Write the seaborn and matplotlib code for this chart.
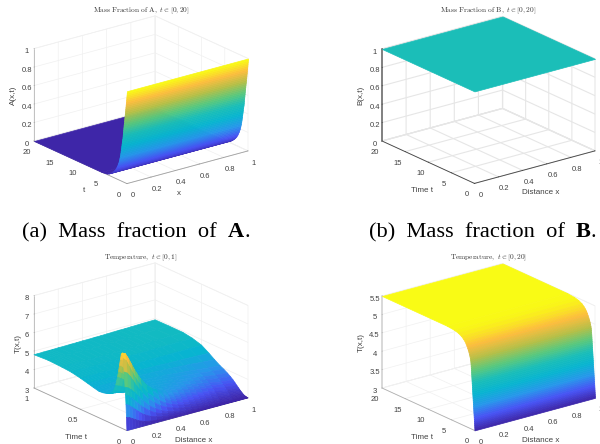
import numpy as np
import matplotlib
matplotlib.use("Agg")
import matplotlib.pyplot as plt
from matplotlib.colors import Normalize
from matplotlib.text import Text
import seaborn as sns
from mpl_toolkits.mplot3d import proj3d

sns.set_theme(style="white")
plt.rcParams["font.family"] = ["Liberation Sans", "DejaVu Sans"]
plt.rcParams["mathtext.fontset"] = "cm"

# ---- data ----
x_edges = [0, 1]

t_a = [0, .03, .06, .1, .13, .17, .2, .24, .27, .31, .35, .38, .42, .46, .5, .54, .58, .62, .66, .7, .73, .77, .81, .85,
       .88, .91, .94, 1.0, 1.06, 1.11, 1.15, 1.2, 1.25, 1.3, 1.35, 1.4, 1.46, 1.52, 1.6, 1.68, 1.76, 1.88, 2.0, 2.15,
       2.3, 2.5, 2.75, 3.05, 3.4, 3.9, 4.3, 4.7, 5.5, 20]
mass_a = [1, .98, .96, .94, .92, .9, .88, .86, .84, .82, .8, .78, .76, .74, .72, .7, .68, .66, .64, .62, .6, .58, .56, .54,
          .52, .5, .48, .46, .44, .42, .4, .38, .36, .34, .32, .3, .28, .26, .24, .22, .2, .18, .16, .14,
          .12, .1, .08, .06, .04, .02, .01, .005, 0, 0]

t_b = [0, 20]
mass_b = [1, 1]

x_c = [0, .025, .05, .075, .1, .125, .15, .2, .25, .3, .35, .4, .45, .5, .55, .6, .65, .7, .75, .8, .9, 1]
t_c = [0, .005, .01, .015, .02, .03, .04, .05, .06, .07, .08, .09, .1, .12, .14, .16, .19, .22, .26, .3, .36, .42, .5, .6, .7, .85, 1]
temp_c = [
    [3.00, 3.00, 3.00, 3.00, 3.00, 3.00, 3.00, 3.00, 3.00, 3.00, 3.00, 3.00, 3.00, 3.00, 3.00, 3.00, 3.00, 3.00, 3.00, 3.00, 3.00, 3.00],
    [3.70, 3.65, 3.55, 3.45, 3.35, 3.28, 3.22, 3.15, 3.11, 3.08, 3.06, 3.05, 3.04, 3.03, 3.02, 3.02, 3.01, 3.01, 3.01, 3.01, 3.00, 3.00],
    [4.40, 4.30, 4.15, 4.00, 3.85, 3.70, 3.58, 3.40, 3.28, 3.20, 3.15, 3.12, 3.09, 3.07, 3.05, 3.04, 3.03, 3.03, 3.02, 3.02, 3.01, 3.00],
    [4.90, 4.80, 4.65, 4.47, 4.28, 4.10, 3.95, 3.68, 3.48, 3.35, 3.26, 3.20, 3.15, 3.11, 3.09, 3.07, 3.06, 3.05, 3.04, 3.03, 3.02, 3.01],
    [5.30, 5.22, 5.08, 4.90, 4.70, 4.50, 4.30, 3.95, 3.70, 3.50, 3.37, 3.28, 3.21, 3.16, 3.13, 3.11, 3.09, 3.07, 3.06, 3.05, 3.03, 3.02],
    [6.10, 6.00, 5.78, 5.50, 5.20, 4.95, 4.70, 4.30, 4.00, 3.75, 3.58, 3.45, 3.35, 3.28, 3.23, 3.19, 3.15, 3.12, 3.10, 3.08, 3.05, 3.03],
    [6.80, 6.65, 6.30, 5.95, 5.60, 5.30, 5.05, 4.60, 4.30, 4.00, 3.78, 3.62, 3.50, 3.41, 3.34, 3.28, 3.23, 3.19, 3.16, 3.13, 3.08, 3.05],
    [7.08, 7.00, 6.70, 6.35, 6.00, 5.70, 5.40, 4.95, 4.60, 4.30, 4.00, 3.78, 3.64, 3.53, 3.45, 3.38, 3.32, 3.26, 3.22, 3.18, 3.12, 3.08],
    [7.00, 6.90, 6.62, 6.30, 6.00, 5.72, 5.45, 5.00, 4.68, 4.40, 4.12, 3.90, 3.76, 3.64, 3.55, 3.47, 3.40, 3.34, 3.29, 3.24, 3.17, 3.12],
    [6.70, 6.60, 6.35, 6.08, 5.82, 5.58, 5.35, 5.00, 4.70, 4.45, 4.20, 4.00, 3.86, 3.74, 3.65, 3.56, 3.49, 3.42, 3.36, 3.30, 3.22, 3.16],
    [6.35, 6.25, 6.05, 5.85, 5.62, 5.42, 5.22, 4.92, 4.68, 4.47, 4.25, 4.07, 3.94, 3.82, 3.73, 3.64, 3.56, 3.49, 3.43, 3.37, 3.27, 3.20],
    [6.00, 5.90, 5.75, 5.58, 5.40, 5.22, 5.07, 4.83, 4.63, 4.46, 4.28, 4.12, 4.00, 3.90, 3.80, 3.71, 3.63, 3.56, 3.49, 3.43, 3.32, 3.25],
    [5.70, 5.60, 5.48, 5.33, 5.18, 5.05, 4.93, 4.73, 4.58, 4.44, 4.30, 4.16, 4.05, 3.96, 3.86, 3.78, 3.70, 3.62, 3.55, 3.49, 3.38, 3.30],
    [5.20, 5.14, 5.05, 4.95, 4.86, 4.78, 4.70, 4.58, 4.49, 4.41, 4.32, 4.23, 4.14, 4.05, 3.97, 3.89, 3.81, 3.74, 3.67, 3.60, 3.48, 3.40],
    [4.88, 4.82, 4.74, 4.67, 4.62, 4.58, 4.54, 4.48, 4.44, 4.40, 4.34, 4.27, 4.20, 4.13, 4.05, 3.98, 3.90, 3.83, 3.76, 3.70, 3.58, 3.50],
    [4.70, 4.66, 4.61, 4.57, 4.54, 4.51, 4.49, 4.45, 4.42, 4.39, 4.35, 4.30, 4.24, 4.18, 4.12, 4.05, 3.98, 3.92, 3.85, 3.79, 3.67, 3.60],
    [4.56, 4.54, 4.52, 4.50, 4.48, 4.47, 4.45, 4.43, 4.41, 4.39, 4.36, 4.33, 4.29, 4.24, 4.19, 4.13, 4.08, 4.02, 3.96, 3.90, 3.79, 3.72],
    [4.50, 4.49, 4.48, 4.47, 4.46, 4.45, 4.44, 4.42, 4.41, 4.39, 4.37, 4.35, 4.32, 4.28, 4.24, 4.19, 4.14, 4.09, 4.04, 3.99, 3.90, 3.83],
    [4.45, 4.44, 4.44, 4.43, 4.43, 4.43, 4.42, 4.42, 4.41, 4.40, 4.39, 4.37, 4.35, 4.32, 4.29, 4.25, 4.21, 4.17, 4.13, 4.09, 4.01, 3.95],
    [4.43, 4.43, 4.43, 4.43, 4.43, 4.43, 4.43, 4.43, 4.43, 4.42, 4.41, 4.39, 4.37, 4.35, 4.33, 4.30, 4.27, 4.24, 4.21, 4.17, 4.10, 4.05],
    [4.50, 4.50, 4.50, 4.50, 4.49, 4.49, 4.49, 4.49, 4.48, 4.48, 4.48, 4.47, 4.46, 4.45, 4.44, 4.42, 4.40, 4.38, 4.36, 4.34, 4.28, 4.24],
    [4.58, 4.58, 4.58, 4.58, 4.58, 4.58, 4.58, 4.58, 4.57, 4.57, 4.57, 4.56, 4.55, 4.54, 4.53, 4.52, 4.51, 4.50, 4.50, 4.49, 4.47, 4.45],
    [4.68, 4.68, 4.68, 4.68, 4.68, 4.68, 4.68, 4.68, 4.68, 4.68, 4.68, 4.67, 4.67, 4.67, 4.67, 4.67, 4.67, 4.67, 4.67, 4.68, 4.69, 4.70],
    [4.78, 4.78, 4.78, 4.78, 4.78, 4.78, 4.78, 4.78, 4.78, 4.78, 4.78, 4.79, 4.79, 4.80, 4.80, 4.81, 4.81, 4.82, 4.82, 4.83, 4.84, 4.85],
    [4.82, 4.82, 4.82, 4.82, 4.82, 4.82, 4.82, 4.82, 4.83, 4.83, 4.83, 4.84, 4.84, 4.85, 4.86, 4.87, 4.87, 4.88, 4.89, 4.90, 4.92, 4.93],
    [4.85, 4.85, 4.85, 4.85, 4.85, 4.85, 4.85, 4.85, 4.85, 4.85, 4.85, 4.86, 4.86, 4.87, 4.87, 4.88, 4.88, 4.89, 4.90, 4.91, 4.92, 4.93],
    [4.80, 4.80, 4.80, 4.81, 4.81, 4.81, 4.81, 4.82, 4.82, 4.83, 4.83, 4.84, 4.84, 4.85, 4.85, 4.86, 4.87, 4.88, 4.88, 4.89, 4.91, 4.92],
]

t_d = [0, .024, .048, .072, .096, .12, .144, .167, .19, .215, .24, .263, .287, .31, .335, .36, .383, .407, .43, .455, .48,
       .50, .526, .55, .574, .6, .62, .645, .67, .69, .72, .74, .765, .79, .815, .84, .87, .92, .98, 1.07, 1.17, 1.28,
       1.42, 1.57, 1.73, 1.92, 2.15, 2.48, 2.9, 3.6, 4.5, 6, 20]
temp_d = [3, 3.05, 3.1, 3.15, 3.2, 3.25, 3.3, 3.35, 3.4, 3.45, 3.5, 3.55, 3.6, 3.65, 3.7, 3.75, 3.8, 3.85, 3.9, 3.95, 4.0,
          4.05, 4.1, 4.15, 4.2, 4.25, 4.3, 4.35, 4.4, 4.45, 4.5, 4.55, 4.6, 4.65, 4.7, 4.75, 4.8, 4.85, 4.9, 4.95, 5.0, 5.05,
          5.1, 5.15, 5.2, 5.25, 5.3, 5.35, 5.4, 5.45, 5.48, 5.5, 5.5]

parula_colors = [(.2422, .1504, .6603), (.2810, .3228, .9579), (.1540, .5902, .9218),
                 (.0297, .7082, .8163), (.1000, .7451, .7235), (.3500, .7850, .4900),
                 (.7000, .7500, .2800), (.9900, .7400, .2400), (.9769, .9839, .0805)]
parula = sns.blend_palette(parula_colors, n_colors=256, as_cmap=True)

x_ticks = [0, .2, .4, .6, .8, 1]
x_ticklabels = ["0", "0.2", "0.4", "0.6", "0.8", "1"]

W, H = 600, 444
fig = plt.figure(figsize=(6, 4.44), dpi=100, facecolor="white")


def place(ax, tlim, zlim, left_px, right_px):
    """Fit the square axes so the floor corners land on the wanted pixels."""
    for _ in range(3):
        ax.apply_aspect()
        proj = ax.get_proj()
        pts = []
        for (px, py) in ((0, tlim[1]), (1, tlim[0])):
            xs, ys, _z = proj3d.proj_transform(px, py, zlim[0], proj)
            pts.append(ax.transData.transform((xs, ys)))
        (lx, ly), (rx, ry) = pts
        scale = (right_px[0] - left_px[0]) / (rx - lx)
        b = ax.get_position()
        side = b.width * scale
        cx = b.x0 + b.width / 2
        cy = b.y0 + b.height / 2
        ox = (lx / W - cx) * scale
        oy = (ly / H - cy) * scale
        ncx = left_px[0] / W - ox
        ncy = (1 - left_px[1] / H) - oy
        ax.set_position([ncx - side / 2, ncy - side * W / H / 2, side, side * W / H])


def pin_label(ax, axis, px):
    """Keep an axis label on a fixed pixel position."""
    lab = axis.label
    ax.apply_aspect()
    pos = ax.transData.inverted().transform((px[0], H - px[1]))
    lab.set_position = lambda xy: Text.set_position(lab, tuple(pos))


def panel(title, xlabel, ylabel, zlabel, tlim, tticks, tlabels, zlim, zticks, zlabels,
          left_px, right_px, axcol, x, t, Z, vmin, vmax, title_px, label_px, zaxis_style, grid_style):
    ax = fig.add_axes([.1, .1, .4, .4 * W / H], projection="3d", proj_type="ortho")
    ax.computed_zorder = False
    Z = np.array(Z)
    X, Y = np.meshgrid(x, t)
    norm = Normalize(vmin, vmax)
    # back rows first, so the steep parts hide what lies behind them
    for i in range(len(t) - 2, -1, -1):
        rows = Z[i:i + 2]
        mean = np.empty_like(rows)
        mean[:, :-1] = (rows[:, :-1] + rows[:, 1:]).sum(axis=0) / 4
        mean[:, -1] = mean[:, -2]
        ax.plot_surface(X[i:i + 2], Y[i:i + 2], rows, facecolors=parula(norm(mean)),
                        rstride=1, cstride=1, linewidth=.5, antialiased=True, shade=False,
                        zorder=5 + (len(t) - i) * .01)
    ax.view_init(elev=20.6, azim=-127.5)
    ax.set_box_aspect((1, 1, .647), zoom=1.0)
    ax.set_xlim(0, 1, view_margin=0)
    ax.set_ylim(*tlim, view_margin=0)
    ax.set_zlim(*zlim, view_margin=0)
    ax.set_xticks(x_ticks, x_ticklabels)
    ax.set_yticks(tticks, tlabels)
    ax.set_zticks(zticks, zlabels)
    ax.tick_params(labelsize=5.5, labelcolor="#404040", color=axcol, length=0)
    ax.tick_params(axis="x", pad=-2.5)
    ax.tick_params(axis="y", pad=-2.5)
    ax.tick_params(axis="z", pad=-5)
    ax.set_xlabel(xlabel, fontsize=5.8, color="#404040")
    ax.set_ylabel(ylabel, fontsize=5.8, color="#404040")
    ax.set_zlabel(zlabel, fontsize=5.8, color="#404040", rotation=90)
    ax.xaxis.set_rotate_label(False)
    ax.yaxis.set_rotate_label(False)
    ax.zaxis.set_rotate_label(False)
    for axis in (ax.xaxis, ax.yaxis, ax.zaxis):
        axis.set_pane_color((1, 1, 1, 1))
        axis.pane.set_edgecolor(grid_style[0])
        axis.pane.set_linewidth(grid_style[1])
        axis.line.set_color(axcol)
        axis.line.set_linewidth(.6)
        axis._axinfo["grid"].update(color=grid_style[0], linewidth=grid_style[1])
        axis._axinfo["tick"].update(inward_factor=0.0, outward_factor=.05, color=axcol, linewidth={True: .5, False: .5})
    ax.zaxis.line.set_color(zaxis_style[0])
    ax.zaxis.line.set_linewidth(zaxis_style[1])
    place(ax, tlim, zlim, left_px, right_px)
    pin_label(ax, ax.xaxis, label_px[0])
    pin_label(ax, ax.yaxis, label_px[1])
    pin_label(ax, ax.zaxis, label_px[2])
    fig.text(title_px[0] / W, 1 - title_px[1] / H, title, fontsize=5.3, color="#333333",
             ha="center", va="center")
    return ax


ticks20, labels20 = [0, 5, 10, 15, 20], ["0", "5", "10", "15", "20"]
ticks1, labels1 = [0, .2, .4, .6, .8, 1], ["0", "0.2", "0.4", "0.6", "0.8", "1"]
faint_grid = ("#f0f0f0", .5)
strong_grid = ("#e6e6e6", .8)

panel(r"$\mathrm{Mass\ Fraction\ of\ A,}\ t\in[0,20]$", "x", "t", "A(x,t)",
      (0, 20), ticks20, labels20, (0, 1), ticks1, labels1,
      (34, 141), (248, 152), "#a0a0a0", x_edges, t_a, [[v, v] for v in mass_a], 0, 1, (141, 10.5),
      ((179, 193), (84, 190), (13, 95)), ("#b8b8b8", .6), faint_grid)
panel(r"$\mathrm{Mass\ Fraction\ of\ B,}\ t\in[0,20]$", "Distance x", "Time t", "B(x,t)",
      (0, 20), ticks20, labels20, (0, 1), ticks1, labels1,
      (382, 141), (595, 152), "#404040", x_edges, t_b, [[v, v] for v in mass_b], 0, 2, (488, 10.5),
      ((541, 193), (422, 190), (361, 95)), ("#808080", 1.4), strong_grid)
panel(r"$\mathrm{Temperature,}\ t\in[0,1]$", "Distance x", "Time t", "T(x,t)",
      (0, 1), [0, .5, 1], ["0", "0.5", "1"], (3, 8), [3, 4, 5, 6, 7, 8], ["3", "4", "5", "6", "7", "8"],
      (34, 388), (248, 400), "#a0a0a0", x_c, t_c, temp_c, 3, 7.25, (141, 258),
      ((194, 440), (76, 437), (18, 343)), ("#b8b8b8", .6), faint_grid)
panel(r"$\mathrm{Temperature,}\ t\in[0,20]$", "Distance x", "Time t", "T(x,t)",
      (0, 20), ticks20, labels20, (3, 5.5), [3, 3.5, 4, 4.5, 5, 5.5], ["3", "3.5", "4", "4.5", "5", "5.5"],
      (382, 388), (595, 399), "#b0b0b0", x_edges, t_d, [[v, v] for v in temp_d], 3, 5.5, (488, 258),
      ((541, 440), (422, 437), (361, 342)), ("#d0d0d0", 1.1), faint_grid)


def caption(x_px, y_px, plain, bold):
    t1 = fig.text(x_px / W, 1 - y_px / H, plain, family="Liberation Serif", fontsize=16.1,
                  color="black", ha="left", va="baseline")
    fig.canvas.draw()
    end = t1.get_window_extent().x1
    t2 = fig.text(end / W, 1 - y_px / H, bold, family="Liberation Serif", fontsize=16.1,
                  fontweight="bold", color="black", ha="left", va="baseline")
    end2 = t2.get_window_extent().x1
    fig.text(end2 / W, 1 - y_px / H, ".", family="Liberation Serif", fontsize=16.1,
             color="black", ha="left", va="baseline")


caption(22, 237, "(a)  Mass  fraction  of  ", "A")
caption(369, 237, "(b)  Mass  fraction  of  ", "B")

fig.savefig("out.png", dpi=100, facecolor="white")
